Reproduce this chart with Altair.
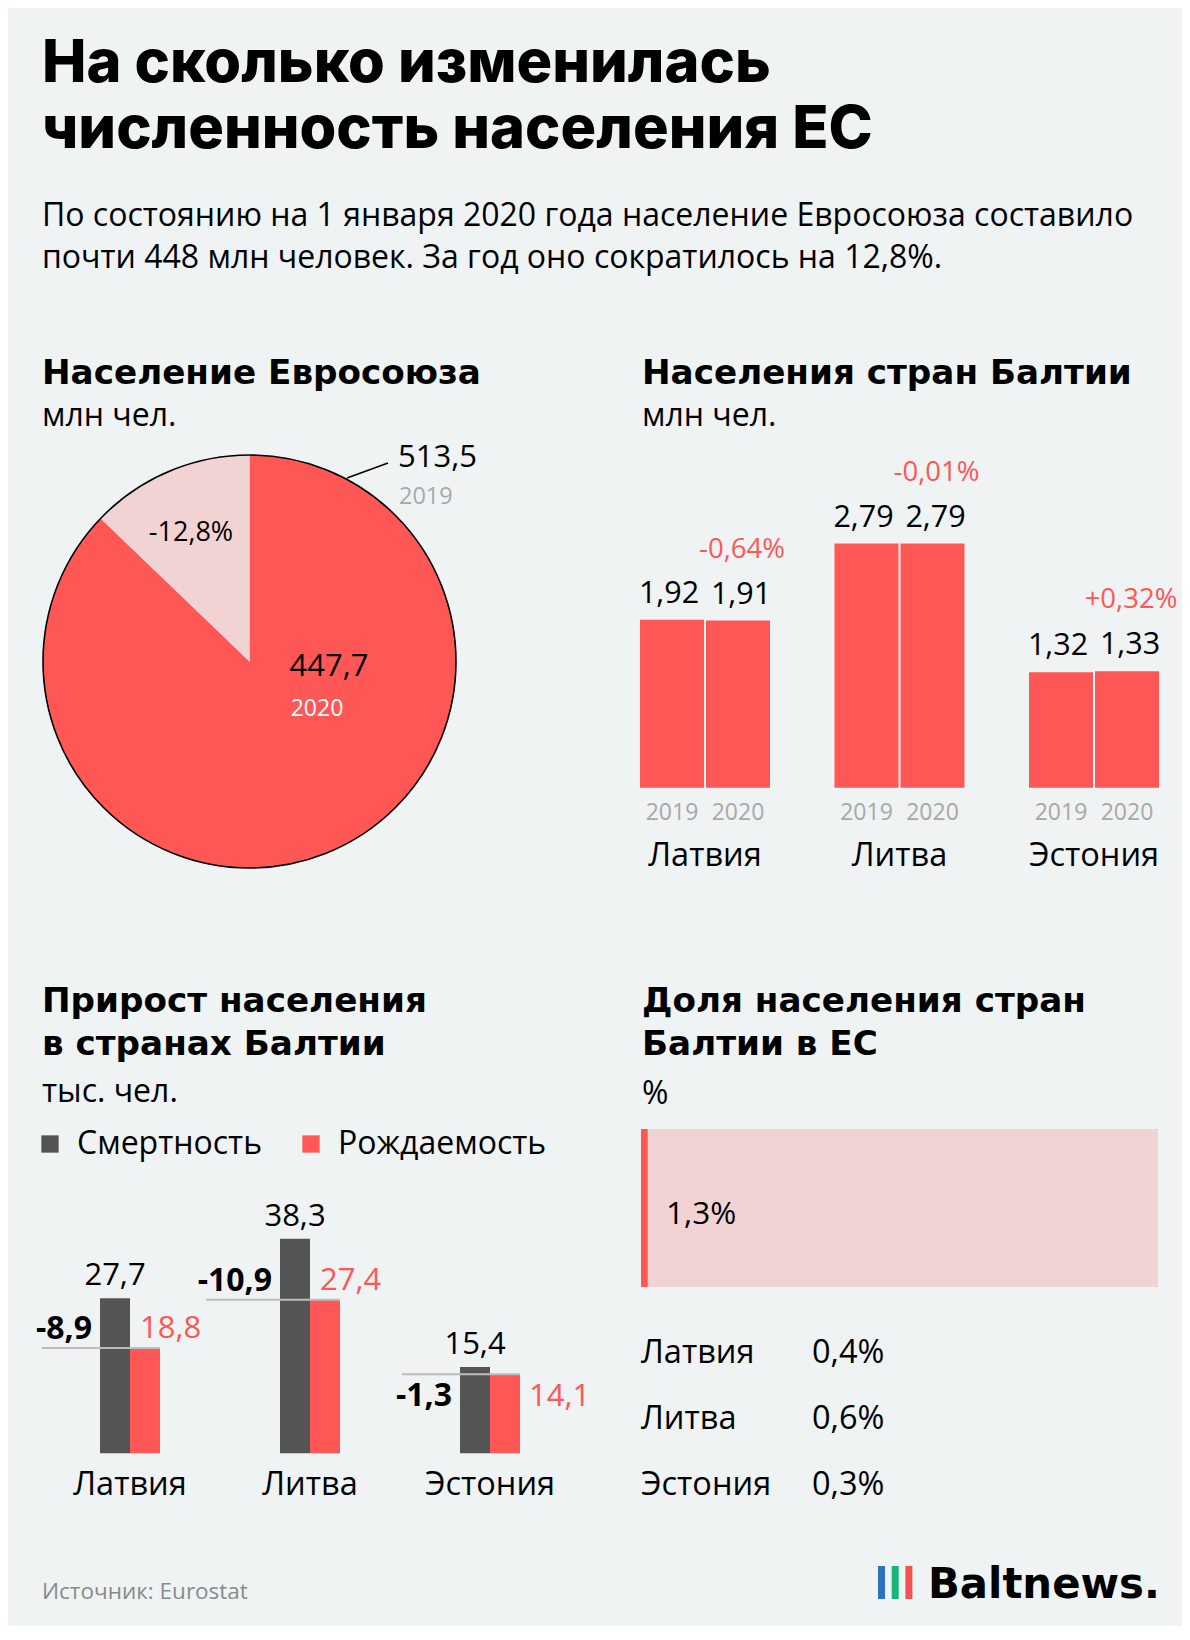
import math
import altair as alt
import pandas as pd

# ---------------- data ----------------
title_lines = ["На сколько изменилась", "численность населения ЕС"]
subtitle_lines = [
    "По состоянию на 1 января 2020 года население Евросоюза составило",
    "почти 448 млн человек. За год оно сократилось на 12,8%.",
]
panel_titles = {
    "eu": ["Население Евросоюза"],
    "baltic": ["Населения стран Балтии"],
    "growth": ["Прирост населения", "в странах Балтии"],
    "share": ["Доля населения стран", "Балтии в ЕС"],
}
panel_units = {"eu": "млн чел.", "baltic": "млн чел.", "growth": "тыс. чел.", "share": "%"}

eu_years = ["2019", "2020"]
eu_pop = [513.5, 447.7]

countries = ["Латвия", "Литва", "Эстония"]
pop_2019 = [1.92, 2.79, 1.32]
pop_2020 = [1.91, 2.79, 1.33]
pop_change = ["-0,64%", "-0,01%", "+0,32%"]

growth_series = ["Смертность", "Рождаемость"]
deaths = [27.7, 38.3, 15.4]
births = [18.8, 27.4, 14.1]
net_growth = [-8.9, -10.9, -1.3]

share_total = 1.3
share_by_country = [0.4, 0.6, 0.3]

source_text = "Источник: Eurostat"
brand_text = "Baltnews."
logo_colors = ["#2f72c4", "#15b67a", "#f25454"]

# ---------------- styles ----------------
OFF = 8  # page margin


def px(v):
    return v - OFF


BG = "#eff3f4"
RED = "#ff5656"
PINK = "#f2d3d4"
DARK = "#545454"
GRAY = "#a8a8a8"
RULE = "#bcbcbc"
TFONT = "Inter"          # main title
HFONT = "DejaVu Sans"    # panel headings / logo
BFONT = "Open Sans"      # body text
BODY = 32


def fmt(v, d=1):
    return f"{v:.{d}f}".replace(".", ",")


DUMMY = alt.Data(values=[{"k": 0}])


def txt(text, x, y, size, font=BFONT, weight="normal", color="#000000",
        align="left", baseline="alphabetic"):
    return alt.Chart(DUMMY).mark_text(
        text=text, font=font, fontSize=size, fontWeight=weight, color=color,
        align=align, baseline=baseline,
    ).encode(x=alt.value(px(x)), y=alt.value(px(y)))


layers = []

# ---------------- header ----------------
layers += [txt(title_lines[0], 42, 82, 59.5, TFONT, 800),
           txt(title_lines[1], 42, 148, 59.5, TFONT, 800)]
layers += [txt(subtitle_lines[0], 42, 226, BODY),
           txt(subtitle_lines[1], 42, 268, BODY)]

# panel headings
LX, RX = 42, 642
HS = 34.2
layers += [txt(panel_titles["eu"][0], LX, 384, HS, HFONT, "bold"),
           txt(panel_units["eu"], LX, 426, BODY)]
layers += [txt(panel_titles["baltic"][0], RX, 384, HS, HFONT, "bold"),
           txt(panel_units["baltic"], RX, 426, BODY)]
layers += [txt(panel_titles["growth"][0], LX, 1012, HS, HFONT, "bold"),
           txt(panel_titles["growth"][1], LX, 1055, HS, HFONT, "bold"),
           txt(panel_units["growth"], LX, 1102, BODY)]
layers += [txt(panel_titles["share"][0], RX, 1012, HS, HFONT, "bold"),
           txt(panel_titles["share"][1], RX, 1055, HS, HFONT, "bold"),
           txt(panel_units["share"], RX, 1104, BODY)]

# ---------------- pie: EU population ----------------
CX, CY, R = 249.5, 661.5, 206.5
pie_df = pd.DataFrame({
    "part": ["2020", "change"],
    "value": [eu_pop[1], eu_pop[0] - eu_pop[1]],
    "ord": [0, 1],
})
layers.append(
    alt.Chart(pie_df).mark_arc(outerRadius=R).encode(
        theta=alt.Theta("value:Q", stack=True),
        order=alt.Order("ord:Q"),
        color=alt.Color("part:N", scale=alt.Scale(domain=["2020", "change"], range=[RED, PINK]), legend=None),
        x=alt.value(px(CX)), y=alt.value(px(CY)),
    )
)
layers.append(
    alt.Chart(DUMMY).mark_arc(outerRadius=R, theta=0, theta2=2 * math.pi, fill=BG, fillOpacity=0,
                              stroke="#000000", strokeWidth=1.6).encode(
        x=alt.value(px(CX)), y=alt.value(px(CY)))
)
layers.append(
    alt.Chart(DUMMY).mark_rule(color="#000000", strokeWidth=1.6).encode(
        x=alt.value(px(347)), y=alt.value(px(478)), x2=alt.value(px(388)), y2=alt.value(px(463)))
)
eu_change = (eu_pop[1] - eu_pop[0]) / eu_pop[0] * 100
layers += [
    txt(fmt(eu_pop[0]), 398, 467, 31),
    txt(eu_years[0], 399, 504, 23.5, color=GRAY),
    txt(fmt(eu_pop[1]), 329, 676, 31, align="center"),
    txt(eu_years[1], 317, 716, 23, color="#ffffff", align="center"),
    txt(fmt(eu_change) + "%", 191, 541, 27, align="center"),
]

# ---------------- Baltic population bars ----------------
STEP = 194.5           # group pitch (px)
BWB = 64 / STEP        # bar width in group units
GAPB = 2 / STEP
pop_rows = []
for i, c in enumerate(countries):
    for j, (yr, val) in enumerate([(eu_years[0], pop_2019[i]), (eu_years[1], pop_2020[i])]):
        x0 = i + j * (BWB + GAPB)
        pop_rows.append({"country": c, "year": yr, "value": val, "x0": x0, "x1": x0 + BWB,
                         "xc": x0 + BWB / 2, "label": fmt(val, 2)})
pop_df = pd.DataFrame(pop_rows)
chg_df = pop_df[pop_df["year"] == eu_years[1]].copy()
chg_df["label"] = pop_change
cty_df = pd.DataFrame({"country": countries, "xc": [i + BWB + GAPB / 2 for i in range(len(countries))]})

bxs = alt.Scale(domain=[0, 3], range=[px(640), px(640 + 3 * STEP)], nice=False, zero=False)
bys = alt.Scale(domain=[0, 3], range=[px(787.7), px(525.2)], nice=False)

layers.append(alt.Chart(pop_df).mark_rect(color=RED).encode(
    x=alt.X("x0:Q", scale=bxs, axis=None), x2="x1:Q",
    y=alt.Y("value:Q", scale=bys, axis=None), y2=alt.datum(0)))
for yr, dx in [(eu_years[0], -3), (eu_years[1], 3)]:
    layers.append(alt.Chart(pop_df).transform_filter(alt.datum.year == yr).mark_text(
        font=BFONT, fontSize=30.5, dy=-17, dx=dx, baseline="alphabetic", color="#000000").encode(
        x=alt.X("xc:Q", scale=bxs, axis=None), y=alt.Y("value:Q", scale=bys, axis=None), text="label:N"))
layers.append(alt.Chart(chg_df).mark_text(font=BFONT, fontSize=27.5, dy=-63, dx=4, baseline="alphabetic",
                                          color=RED).encode(
    x=alt.X("xc:Q", scale=bxs, axis=None), y=alt.Y("value:Q", scale=bys, axis=None), text="label:N"))
layers.append(alt.Chart(pop_df).mark_text(font=BFONT, fontSize=23, baseline="alphabetic", color=GRAY).encode(
    x=alt.X("xc:Q", scale=bxs, axis=None), y=alt.value(px(820)), text="year:N"))
layers.append(alt.Chart(cty_df).mark_text(font=BFONT, fontSize=32.5, baseline="alphabetic",
                                          color="#000000").encode(
    x=alt.X("xc:Q", scale=bxs, axis=None), y=alt.value(px(866)), text="country:N"))

# ---------------- growth: deaths vs births ----------------
BW = 30 / 180  # bar width in group units
g_rows = []
for i, c in enumerate(countries):
    g_rows.append({"country": c, "type": growth_series[0], "x0": i, "x1": i + BW, "value": deaths[i]})
    g_rows.append({"country": c, "type": growth_series[1], "x0": i + BW, "x1": i + 2 * BW, "value": births[i]})
g_df = pd.DataFrame(g_rows)

info = pd.DataFrame({
    "country": countries,
    "i": list(range(len(countries))),
    "death": deaths,
    "birth": births,
    "net": [fmt(v) for v in net_growth],
})
info["dlabel"] = info["death"].map(fmt)
info["blabel"] = info["birth"].map(fmt)
info["below"] = (info["death"] - info["birth"]) < 5
info["dcenter"] = info["i"] + BW / 2
info["rleft"] = info["i"] + BW
info["rright"] = info["i"] + 2 * BW
info["rs"] = info["i"] - (16 * info["net"].str.len() - 6) / 180
info["gcenter"] = info["i"] + BW

gxs = alt.Scale(domain=[0, 3], range=[px(100), px(640)], nice=False, zero=False)
gys = alt.Scale(domain=[0, 40], range=[px(1453.3), px(1453.3 - 5.6 * 40)], nice=False)

layers.append(
    alt.Chart(g_df).mark_rect().encode(
        x=alt.X("x0:Q", scale=gxs, axis=None), x2="x1:Q",
        y=alt.Y("value:Q", scale=gys, axis=None), y2=alt.datum(0),
        color=alt.Color("type:N", scale=alt.Scale(domain=growth_series, range=[DARK, RED]),
                        legend=alt.Legend(orient="none", legendX=px(34), legendY=px(1128), direction="horizontal",
                                          title=None, symbolType="square", symbolSize=300,
                                          symbolStrokeWidth=0, labelFont=BFONT, labelFontSize=BODY,
                                          labelColor="#000000", labelOffset=11, columnPadding=33,
                                          labelLimit=600, padding=0)),
    )
)
layers.append(
    alt.Chart(info).mark_rule(color=RULE, strokeWidth=2).encode(
        x=alt.X("rs:Q", scale=gxs, axis=None), x2="rright:Q",
        y=alt.Y("birth:Q", scale=gys, axis=None))
)
for below, dy in [(False, -9), (True, 32)]:
    sel = alt.datum.below if below else ~alt.datum.below
    layers.append(
        alt.Chart(info).transform_filter(sel).mark_text(
            font=BFONT, fontSize=32, fontWeight="bold", align="right", dx=-8, dy=dy,
            baseline="alphabetic", color="#000000").encode(
            x=alt.X("i:Q", scale=gxs, axis=None), y=alt.Y("birth:Q", scale=gys, axis=None), text="net:N")
    )
for below, field, dx, dy in [(False, "rleft", 10, -10), (True, "rright", 9, 32)]:
    sel = alt.datum.below if below else ~alt.datum.below
    layers.append(
        alt.Chart(info).transform_filter(sel).mark_text(
            font=BFONT, fontSize=31, align="left", dx=dx, dy=dy, baseline="alphabetic", color=RED).encode(
            x=alt.X(f"{field}:Q", scale=gxs, axis=None), y=alt.Y("birth:Q", scale=gys, axis=None),
            text="blabel:N")
    )
layers.append(
    alt.Chart(info).mark_text(font=BFONT, fontSize=31, align="center", dy=-13, baseline="alphabetic",
                              color="#000000").encode(
        x=alt.X("dcenter:Q", scale=gxs, axis=None), y=alt.Y("death:Q", scale=gys, axis=None), text="dlabel:N")
)
layers.append(
    alt.Chart(info).mark_text(font=BFONT, fontSize=32.5, align="center", baseline="alphabetic",
                              color="#000000").encode(
        x=alt.X("gcenter:Q", scale=gxs, axis=None), y=alt.value(px(1495)), text="country:N")
)

# ---------------- share of Baltic states in EU ----------------
sxs = alt.Scale(domain=[0, 100], range=[px(641), px(1158)], nice=False, zero=False)
share_df = pd.DataFrame({"kind": ["ЕС", "Балтия"], "start": [0, 0], "end": [100, share_total]})
layers.append(
    alt.Chart(share_df).mark_rect().encode(
        x=alt.X("start:Q", scale=sxs, axis=None), x2="end:Q",
        y=alt.value(px(1129)), y2=alt.value(px(1287)),
        color=alt.Color("kind:N", scale=alt.Scale(domain=["ЕС", "Балтия"], range=[PINK, RED]), legend=None),
    )
)
tot_df = pd.DataFrame({"start": [0], "label": [fmt(share_total) + "%"]})
layers.append(
    alt.Chart(tot_df).mark_text(font=BFONT, fontSize=31.5, align="left", dx=25, baseline="middle",
                                color="#000000").encode(
        x=alt.X("start:Q", scale=sxs, axis=None), y=alt.value(px(1215)), text="label:N")
)
tab_df = pd.DataFrame({"country": countries, "label": [fmt(v) + "%" for v in share_by_country]})
tys = alt.Y("country:N", sort=countries,
            scale=alt.Scale(type="band", domain=countries, range=[px(1320), px(1518)],
                            paddingInner=0, paddingOuter=0),
            axis=None, bandPosition=0.5)
layers.append(alt.Chart(tab_df).mark_text(font=BFONT, fontSize=32.5, align="left", baseline="middle",
                                          color="#000000").encode(x=alt.value(px(641)), y=tys, text="country:N"))
layers.append(alt.Chart(tab_df).mark_text(font=BFONT, fontSize=32.5, align="left", baseline="middle",
                                          color="#000000").encode(x=alt.value(px(812)), y=tys, text="label:N"))

# ---------------- footer ----------------
layers.append(txt(source_text, 42, 1599, 22.5, color="#8a8a8a"))
for k, col in enumerate(logo_colors):
    x0 = 878 + k * 13.7
    layers.append(alt.Chart(DUMMY).mark_rect(color=col).encode(
        x=alt.value(px(x0)), x2=alt.value(px(x0 + 7)), y=alt.value(px(1566)), y2=alt.value(px(1599))))
layers.append(txt(brand_text, 928, 1598, 41.8, HFONT, "bold"))

chart = (
    alt.layer(*layers)
    .resolve_scale(x="independent", y="independent", color="independent", theta="independent")
    .resolve_legend(color="independent")
    .properties(width=1174, height=1618, autosize=alt.AutoSizeParams(type="none"), padding=0, background=BG)
    .configure_view(strokeWidth=0)
)

chart.save("out.html", embed_options={"renderer": "svg", "actions": False})
